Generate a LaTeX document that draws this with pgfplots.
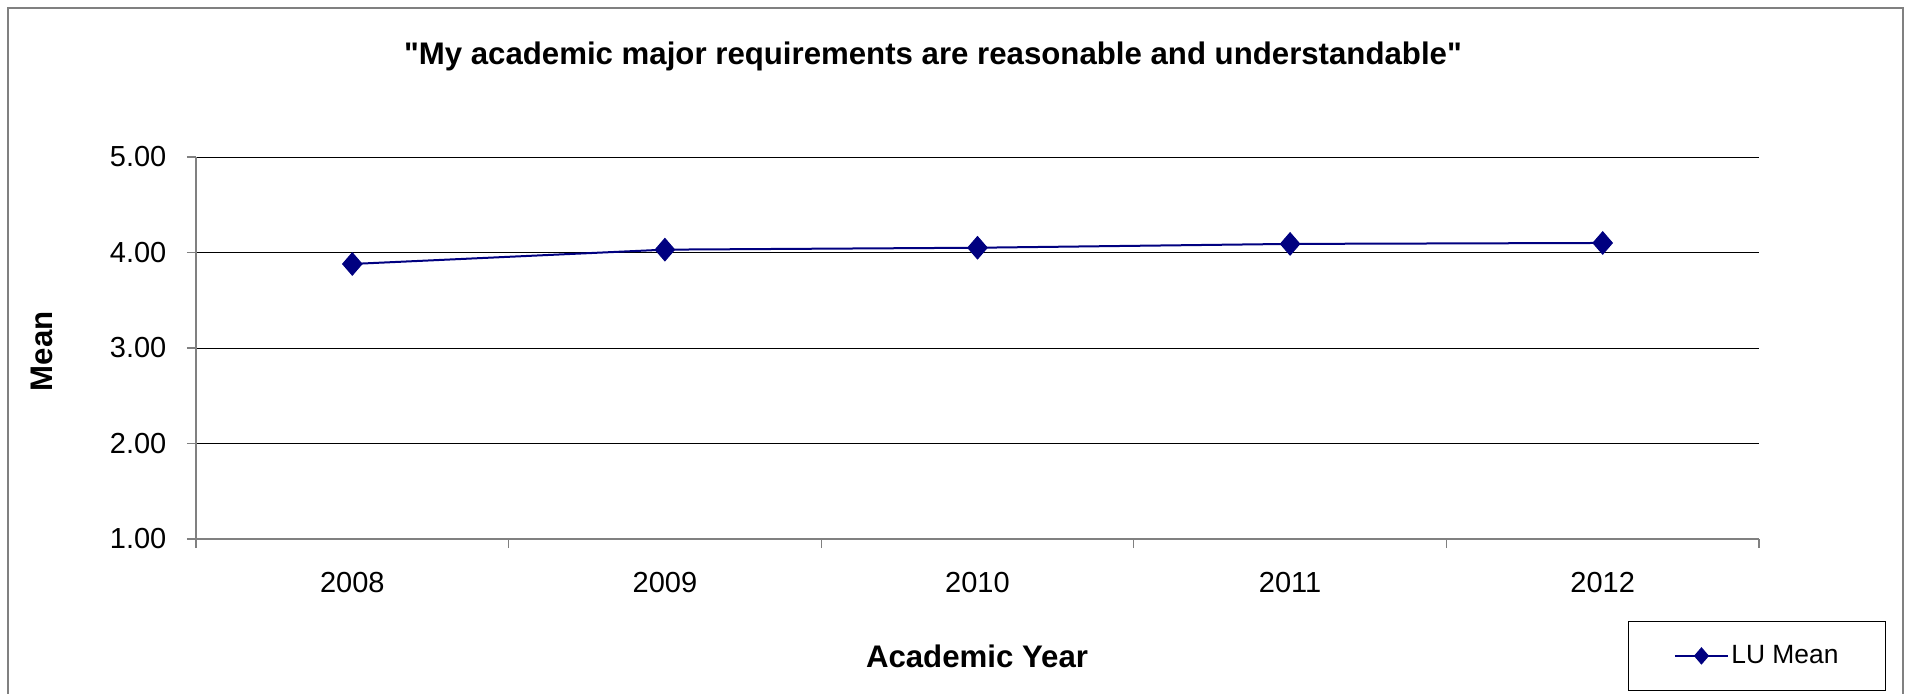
\documentclass[border=0pt]{standalone}
\usepackage{fontspec}
\setmainfont{Liberation Sans}[Ligatures=TeXOff]
\usepackage{pgfplots}
\pgfplotsset{compat=1.18}
\definecolor{navyline}{RGB}{0,0,128}
\definecolor{framegray}{RGB}{128,128,128}
\begin{document}
\begin{tikzpicture}
\useasboundingbox (0,0) rectangle (955.5pt,346.5pt);
\draw[framegray, line width=0.9pt] (4pt,-2pt) -- (4pt,342.5pt) -- (951.5pt,342.5pt) -- (951.5pt,-2pt);
\begin{axis}[
  at={(98pt,77pt)}, anchor=south west,
  scale only axis, width=781.5pt, height=191pt,
  xmin=0.5, xmax=5.5, ymin=1, ymax=5,
  xtick={1,2,3,4,5},
  xticklabels={2008,2009,2010,2011,2012},
  minor xtick={0.5,1.5,2.5,3.5,4.5,5.5},
  ytick={1,2,3,4,5},
  yticklabel={\pgfmathprintnumber[fixed,fixed zerofill,precision=2]{\tick}},
  /pgf/number format/assume math mode=true,
  ymajorgrids,
  major grid style={black, line width=0.5pt},
  axis x line*=bottom, axis y line*=left,
  axis line style={draw=framegray, line width=0.6pt, -},
  tick align=outside,
  major tick length=4.5pt, minor tick length=4.5pt,
  tick style={draw=framegray, line width=0.6pt},
  major x tick style={draw=none},
  minor x tick style={draw=framegray, line width=0.6pt},
  ticklabel style={font=\fontsize{14.5}{17}\selectfont},
  xticklabel style={yshift=-8.5pt},
  yticklabel style={xshift=-6.8pt},
  legend style={at={(0.999,-0.306)}, anchor=center, draw=black, line width=0.5pt,
    font=\fontsize{13.2}{15}\selectfont, inner xsep=22.5pt, inner ysep=9pt,
    nodes={inner xsep=1.2pt, inner ysep=3pt}},
  legend cell align=left,
  legend image code/.code={\draw[mark repeat=2,mark phase=2,mark size=4pt] plot coordinates {(0pt,0pt) (13.25pt,0pt) (26.5pt,0pt)};},
]
\addplot[color=navyline, line width=1pt, mark=diamond*, mark size=5.6pt, mark options={solid, fill=navyline, draw=navyline, line width=0.5pt, xscale=1.15}]
  coordinates {(1,3.88) (2,4.03) (3,4.05) (4,4.09) (5,4.10)};
\addlegendentry{LU Mean}
\end{axis}
\node[font=\bfseries\fontsize{15.6}{18}\selectfont, anchor=base, inner sep=0pt] at (466.5pt,314.5pt) {"My academic major requirements are reasonable and understandable"};
\node[font=\bfseries\fontsize{15.6}{18}\selectfont, anchor=base, inner sep=0pt] at (488.5pt,12.65pt) {Academic Year};
\node[font=\bfseries\fontsize{15.6}{18}\selectfont, rotate=90, anchor=base, inner sep=0pt] at (26.35pt,170.85pt) {Mean};
\end{tikzpicture}
\end{document}
